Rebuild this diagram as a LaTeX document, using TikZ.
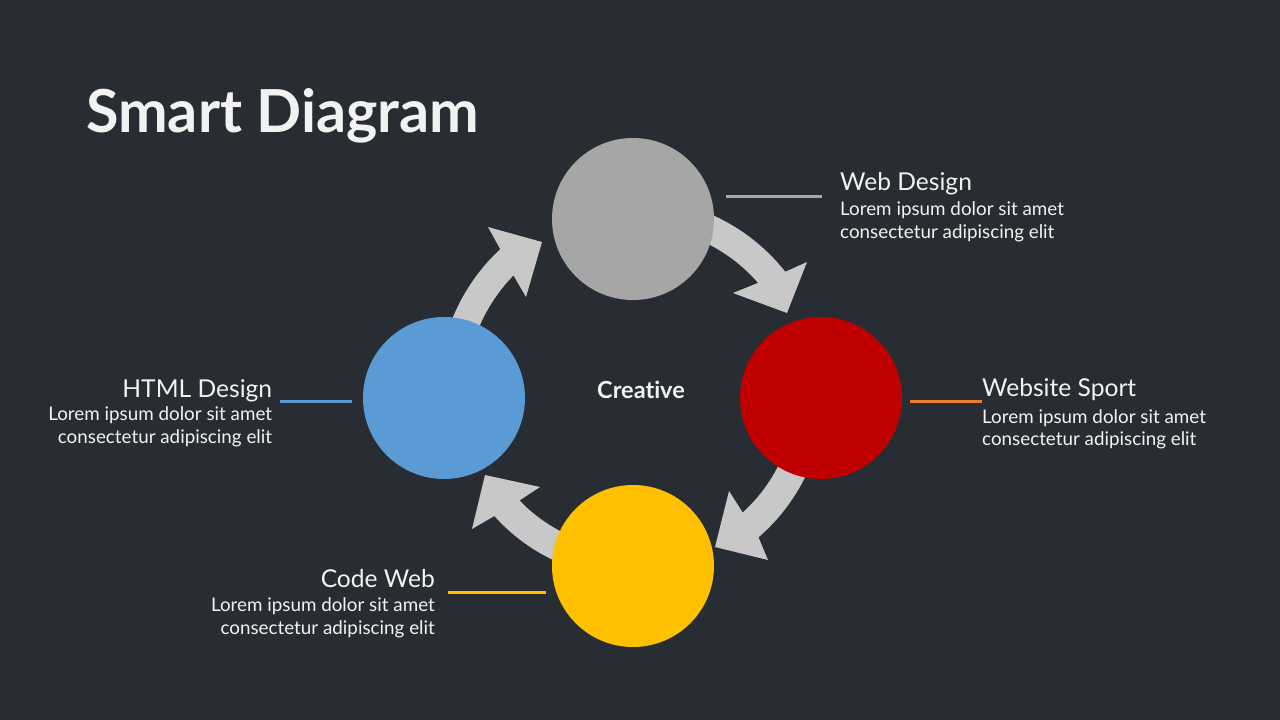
\documentclass[tikz,border=0pt]{standalone}
\usepackage{fontspec}
\setmainfont{Lato}[Ligatures=NoCommon]
\definecolor{bg}{HTML}{282D33}
\definecolor{txt}{HTML}{F2F2F2}
\definecolor{arr}{HTML}{C8C8C8}
\definecolor{cgray}{HTML}{A6A6A6}
\definecolor{cred}{HTML}{C00000}
\definecolor{cblue}{HTML}{5B9BD5}
\definecolor{cyellow}{HTML}{FFC000}
\definecolor{corange}{HTML}{ED7D31}
\begin{document}
\begin{tikzpicture}[x=1pt,y=1pt,
  ball/.style={circle,inner sep=0pt,minimum size=162pt},
  arrowshape/.style={fill=arr},
  leader/.style={line width=3pt},
  head/.style={text=txt,inner sep=0pt,font=\fontsize{24.6}{30}\selectfont},
  body/.style={text=txt,inner sep=0pt,font=\fontsize{18.8}{22}\selectfont},
]
\fill[bg] (0,0) rectangle (1280,-720);
\useasboundingbox (0,0) rectangle (1280,-720);
\coordinate (C) at (633,-392);

% curved arrows
\fill[arrowshape] ([shift={(80:194)}]C) arc[start angle=80,end angle=38.3,radius=194]
  -- (807,-262) -- (787,-313) -- (733,-293) -- ([shift={(41.1:166)}]C)
  arc[start angle=41.1,end angle=80,radius=166] -- cycle;
\fill[arrowshape] ([shift={(-15:192)}]C) arc[start angle=-15,end angle=-49.2,radius=192]
  -- (768,-560) -- (715,-547) -- (729,-491) -- ([shift={(-47.7:163)}]C)
  arc[start angle=-47.7,end angle=-15,radius=163] -- cycle;
\fill[arrowshape] ([shift={(255:186)}]C) arc[start angle=255,end angle=221.8,radius=186]
  -- (472,-529) -- (485,-475) -- (540,-487) -- ([shift={(223.7:157)}]C)
  arc[start angle=223.7,end angle=255,radius=157] -- cycle;
\fill[arrowshape] ([shift={(170:195)}]C) arc[start angle=170,end angle=132.9,radius=195]
  -- (488,-227) -- (542,-242) -- (526,-297) -- ([shift={(135.7:167)}]C)
  arc[start angle=135.7,end angle=170,radius=167] -- cycle;

% circles
\node[ball,fill=cgray] (web) at (633,-219) {};
\node[ball,fill=cred] (sport) at (821,-398) {};
\node[ball,fill=cyellow] (code) at (633,-566) {};
\node[ball,fill=cblue] (html) at (444,-398) {};

\node[text=txt,inner sep=0pt,font=\fontsize{23.5}{28}\selectfont\bfseries,anchor=base] (creative) at (641,-398.3) {Creative};

% title
\node[text=txt,inner sep=0pt,font=\fontsize{59.3}{72}\selectfont\bfseries,anchor=base west] (title) at (86,-132) {Smart Diagram};

% leader lines
\coordinate (l1a) at (726,-196); \coordinate (l1b) at (822,-196);
\coordinate (l2a) at (910,-401); \coordinate (l2b) at (982,-401);
\coordinate (l3a) at (448,-592.3); \coordinate (l3b) at (545.5,-592.3);
\coordinate (l4a) at (280,-401); \coordinate (l4b) at (352,-401);
\draw[leader,draw=cgray] (l1a) -- (l1b);
\draw[leader,draw=corange] (l2a) -- (l2b);
\draw[leader,draw=cyellow] (l3a) -- (l3b);
\draw[leader,draw=cblue] (l4a) -- (l4b);

% labels
\node[head,anchor=base west] (h1) at (840,-190) {Web Design};
\node[body,anchor=base west] (b1a) at (840,-215.7) {Lorem ipsum dolor sit amet};
\node[body,anchor=base west] (b1b) at (840,-238.3) {consectetur adipiscing elit};

\node[head,anchor=base west] (h2) at (982,-396.7) {Website Sport};
\node[body,anchor=base west] (b2a) at (982,-423) {Lorem ipsum dolor sit amet};
\node[body,anchor=base west] (b2b) at (982,-445) {consectetur adipiscing elit};

\node[head,anchor=base east] (h3) at (435,-587.3) {Code Web};
\node[body,anchor=base east] (b3a) at (435,-611.7) {Lorem ipsum dolor sit amet};
\node[body,anchor=base east] (b3b) at (435,-634) {consectetur adipiscing elit};

\node[head,anchor=base east] (h4) at (272.3,-397.3) {HTML Design};
\node[body,anchor=base east] (b4a) at (272.3,-420.7) {Lorem ipsum dolor sit amet};
\node[body,anchor=base east] (b4b) at (272.3,-443.3) {consectetur adipiscing elit};
\end{tikzpicture}
\end{document}
